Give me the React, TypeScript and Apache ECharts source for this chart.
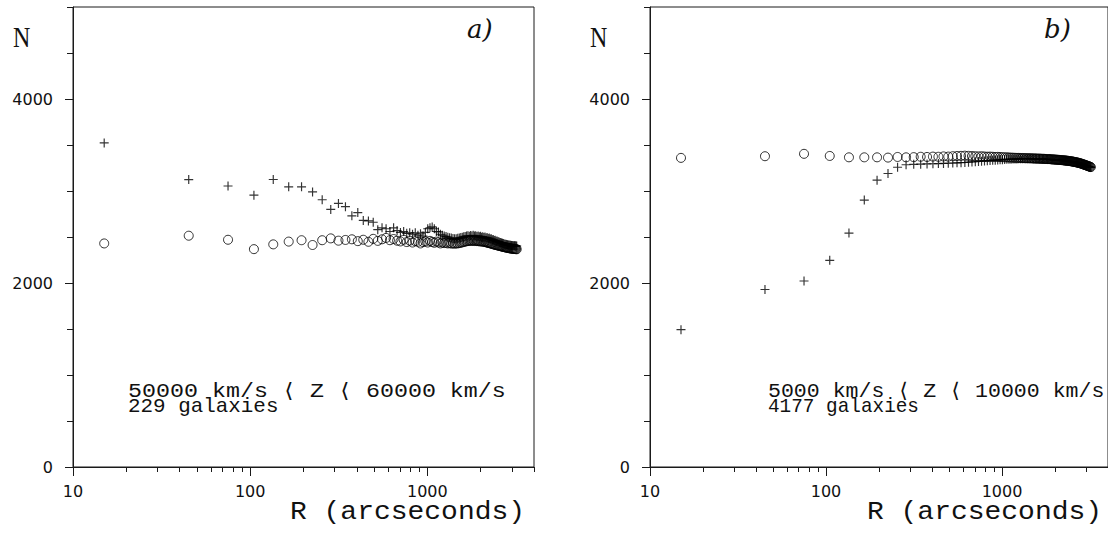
import React, { useEffect, useRef } from "react";
import * as echarts from "echarts";

// Bin centres (arcseconds)
const R = [
  15, 45, 75, 105, 135, 165, 195, 225, 255, 285,
  315, 345, 375, 405, 435, 465, 495, 525, 555, 585,
  615, 645, 675, 705, 735, 765, 795, 825, 855, 885,
  915, 945, 975, 1005, 1035, 1065, 1095, 1125, 1155, 1185,
  1215, 1245, 1275, 1305, 1335, 1365, 1395, 1425, 1455, 1485,
  1515, 1545, 1575, 1605, 1635, 1665, 1695, 1725, 1755, 1785,
  1815, 1845, 1875, 1905, 1935, 1965, 1995, 2025, 2055, 2085,
  2115, 2145, 2175, 2205, 2235, 2265, 2295, 2325, 2355, 2385,
  2415, 2445, 2475, 2505, 2535, 2565, 2595, 2625, 2655, 2685,
  2715, 2745, 2775, 2805, 2835, 2865, 2895, 2925, 2955, 2985,
  3015, 3045, 3075, 3105, 3135, 3165, 3195,
];

// Panel a: circles
const circlesA = [
  2430, 2514, 2470, 2368, 2420, 2450, 2465, 2413, 2465, 2485,
  2460, 2468, 2475, 2455, 2470, 2448, 2480, 2458, 2475, 2490,
  2465, 2478, 2460, 2452, 2470, 2445, 2460, 2440, 2455, 2448,
  2430, 2445, 2452, 2440, 2458, 2446, 2437, 2450, 2442, 2430,
  2440, 2434, 2438, 2430, 2436, 2428, 2432, 2426, 2432, 2430,
  2434, 2438, 2442, 2446, 2450, 2454, 2456, 2458, 2460, 2458,
  2462, 2456, 2460, 2455, 2458, 2452, 2455, 2450, 2452, 2446,
  2448, 2442, 2440, 2436, 2434, 2430, 2428, 2424, 2421, 2418,
  2415, 2412, 2410, 2407, 2405, 2402, 2400, 2397, 2395, 2392,
  2390, 2388, 2386, 2384, 2382, 2380, 2378, 2377, 2375, 2374,
  2373, 2372, 2371, 2370, 2369, 2368, 2367,
];

// Panel a: crosses
const crossesA = [
  3523, 3124, 3054, 2955, 3125, 3045, 3045, 2990, 2905, 2800,
  2865, 2830, 2730, 2765, 2680, 2675, 2660, 2580, 2600, 2590,
  2560, 2600, 2570, 2550, 2560, 2540, 2545, 2530, 2545, 2520,
  2535, 2510, 2550, 2590, 2600, 2610, 2590, 2560, 2555, 2530,
  2520, 2510, 2505, 2498, 2492, 2488, 2484, 2480, 2482, 2486,
  2490, 2494, 2498, 2502, 2506, 2510, 2514, 2508, 2516, 2512,
  2518, 2510, 2514, 2506, 2512, 2502, 2508, 2498, 2504, 2494,
  2500, 2490, 2494, 2484, 2488, 2478, 2480, 2470, 2472, 2462,
  2464, 2455, 2456, 2448, 2448, 2440, 2440, 2434, 2432, 2428,
  2425, 2422, 2420, 2418, 2416, 2414, 2412, 2410, 2409, 2408,
  2407, 2406, 2405, 2404, 2404, 2403, 2402,
];

// Panel b: circles
const circlesB = [
  3360, 3378, 3404, 3381, 3366, 3366, 3366, 3363, 3370, 3366,
  3368, 3372, 3370, 3374, 3372, 3376, 3374, 3378, 3380, 3382,
  3384, 3382, 3380, 3378, 3376, 3378, 3375, 3373, 3374, 3372,
  3370, 3371, 3369, 3368, 3366, 3366, 3364, 3363, 3362, 3361,
  3360, 3360, 3359, 3359, 3358, 3357, 3357, 3356, 3356, 3355,
  3354, 3354, 3353, 3352, 3352, 3351, 3350, 3350, 3349, 3348,
  3347, 3347, 3346, 3345, 3344, 3343, 3342, 3341, 3340, 3339,
  3338, 3337, 3336, 3335, 3334, 3333, 3331, 3330, 3329, 3327,
  3326, 3324, 3323, 3321, 3319, 3317, 3315, 3313, 3311, 3309,
  3307, 3304, 3302, 3299, 3296, 3293, 3290, 3287, 3284, 3281,
  3278, 3275, 3272, 3269, 3266, 3263, 3260,
];

// Panel b: crosses
const crossesB = [
  1493, 1929, 2022, 2246, 2543, 2901, 3118, 3190, 3258, 3285,
  3290, 3292, 3294, 3296, 3298, 3300, 3302, 3304, 3306, 3308,
  3310, 3313, 3316, 3318, 3321, 3324, 3326, 3328, 3331, 3333,
  3335, 3337, 3339, 3341, 3343, 3344, 3345, 3346, 3347, 3348,
  3349, 3350, 3350, 3351, 3351, 3351, 3351, 3351, 3350, 3350,
  3349, 3349, 3348, 3348, 3347, 3347, 3346, 3346, 3345, 3344,
  3343, 3343, 3342, 3341, 3340, 3339, 3338, 3337, 3336, 3335,
  3334, 3333, 3332, 3331, 3330, 3329, 3327, 3326, 3325, 3323,
  3322, 3320, 3319, 3317, 3315, 3313, 3311, 3309, 3307, 3305,
  3303, 3300, 3298, 3295, 3292, 3289, 3286, 3283, 3280, 3277,
  3274, 3271, 3268, 3265, 3262, 3259, 3256,
];

const X_MAJOR = [10, 100, 1000];
const X_MINOR = [20, 30, 40, 50, 60, 70, 80, 90, 200, 300, 400, 500, 600, 700, 800, 900, 2000, 3000, 4000];
const Y_MAJOR = [0, 2000, 4000];
const Y_MINOR = [500, 1000, 1500, 2500, 3000, 3500, 4500, 5000];

const PANEL_LABELS = ["a)", "b)"];
const RANGE_TEXT = ["50000 km/s ⟨ Z ⟨ 60000 km/s", "5000 km/s ⟨ Z ⟨ 10000 km/s"];
const COUNT_TEXT = ["229 galaxies", "4177 galaxies"];
const X_TITLE = "R (arcseconds)";
const Y_TITLE = "N";

const INK = "#000000";
const PLUS =
  "path://M4.35,0 h1.3 v4.35 h4.35 v1.3 h-4.35 v4.35 h-1.3 v-4.35 h-4.35 v-1.3 h4.35 z";

export default function App() {
  const ref = useRef<HTMLDivElement>(null);

  useEffect(() => {
    if (!ref.current) return;
    const chart = echarts.init(ref.current, null, { renderer: "svg" });

    const grids = [
      { left: 73, top: 7, width: 461, height: 460 },
      { left: 650, top: 7, width: 460, height: 460 },
    ];

    const lineStyle = { color: "#1a1a1a", width: 1 };
    const tickFont = { fontFamily: "DejaVu Sans", fontSize: 16, color: "#111" };

    const xAxis: any[] = [];
    const yAxis: any[] = [];
    grids.forEach((_, gi) => {
      xAxis.push({
        type: "log",
        logBase: 10,
        min: 10,
        max: 4000,
        gridIndex: gi,
        position: "bottom",
        axisLine: { show: true, lineStyle },
        axisTick: { show: true, length: 9, customValues: X_MAJOR, lineStyle },
        axisLabel: {
          show: true,
          customValues: X_MAJOR,
          margin: 16,
          formatter: (v: number) => String(Math.round(v)),
          ...tickFont,
        },
        splitLine: { show: false },
        minorTick: { show: false },
      });
      xAxis.push({
        type: "log",
        logBase: 10,
        min: 10,
        max: 4000,
        gridIndex: gi,
        position: "bottom",
        axisLine: { show: false },
        axisTick: { show: true, length: 5, customValues: X_MINOR, lineStyle },
        axisLabel: { show: false },
        splitLine: { show: false },
      });
      yAxis.push({
        type: "value",
        min: 0,
        max: 5000,
        gridIndex: gi,
        position: "left",
        axisLine: { show: true, lineStyle },
        axisTick: { show: true, length: 8, customValues: Y_MAJOR, lineStyle },
        axisLabel: {
          show: true,
          customValues: Y_MAJOR,
          margin: 20,
          formatter: (v: number) => String(Math.round(v)),
          ...tickFont,
        },
        splitLine: { show: false },
      });
      yAxis.push({
        type: "value",
        min: 0,
        max: 5000,
        gridIndex: gi,
        position: "left",
        axisLine: { show: false },
        axisTick: { show: true, length: 6, customValues: Y_MINOR, lineStyle },
        axisLabel: { show: false },
        splitLine: { show: false },
      });
    });

    const pair = (ys: number[]) => R.map((r, i) => [r, ys[i]]);

    const circleSeries = (gi: number, ys: number[]) => ({
      type: "scatter",
      xAxisIndex: gi * 2,
      yAxisIndex: gi * 2,
      data: pair(ys),
      symbol: "circle",
      symbolSize: 9,
      itemStyle: { color: "rgba(0,0,0,0)", borderColor: INK, borderWidth: 1 },
      silent: true,
      z: 2,
    });
    const crossSeries = (gi: number, ys: number[]) => ({
      type: "scatter",
      xAxisIndex: gi * 2,
      yAxisIndex: gi * 2,
      data: pair(ys),
      symbol: PLUS,
      symbolSize: 9,
      itemStyle: { color: INK },
      silent: true,
      z: 3,
    });

    const txt = (
      text: string,
      x: number,
      y: number,
      fontFamily: string,
      fontSize: number,
      opts: any = {}
    ) => ({
      type: "text",
      x,
      y,
      scaleX: opts.scaleX ?? 1,
      scaleY: opts.scaleY ?? 1,
      silent: true,
      style: {
        text,
        x: 0,
        y: 0,
        fontFamily,
        fontSize,
        fontStyle: opts.fontStyle ?? "normal",
        fill: "#111",
        align: "left",
        verticalAlign: "middle",
        textAlign: "left",
        textVerticalAlign: "middle",
      },
    });

    const MONO = '"Liberation Mono", "DejaVu Sans Mono", monospace';
    const offsets = [0, 577];
    const rangeScaleX = [1.06, 0.98];
    const countScaleX = [0.95, 0.88];
    const rangeX = [128, 768];

    const graphics: any[] = [];
    offsets.forEach((dx, gi) => {
      graphics.push(txt(Y_TITLE, 13 + dx, 37, '"Liberation Serif", serif', 30, { scaleX: 0.8 }));
      graphics.push(
        txt(PANEL_LABELS[gi], 467 + dx, 28.5, '"DejaVu Serif", serif', 26, { fontStyle: "italic" })
      );
      graphics.push(txt(X_TITLE, 290 + dx, 512, MONO, 28, { scaleY: 0.93 }));
      graphics.push(
        txt(RANGE_TEXT[gi], rangeX[gi], 392, MONO, 22, { scaleX: rangeScaleX[gi], scaleY: 0.92 })
      );
      graphics.push(
        txt(COUNT_TEXT[gi], rangeX[gi], 407, MONO, 22, { scaleX: countScaleX[gi], scaleY: 0.92 })
      );
    });

    chart.setOption({
      animation: false,
      backgroundColor: "#ffffff",
      grid: grids.map((g) => ({
        ...g,
        show: true,
        borderColor: "#1a1a1a",
        borderWidth: 1,
        backgroundColor: "rgba(0,0,0,0)",
        containLabel: false,
      })),
      xAxis,
      yAxis,
      series: [
        circleSeries(0, circlesA),
        crossSeries(0, crossesA),
        circleSeries(1, circlesB),
        crossSeries(1, crossesB),
      ],
      graphic: { elements: graphics },
    });

    return () => chart.dispose();
  }, []);

  return (
    <div
      ref={ref}
      style={{
        position: "fixed",
        left: 0,
        top: 0,
        width: 1108,
        height: 537,
        background: "#fff",
      }}
    />
  );
}
